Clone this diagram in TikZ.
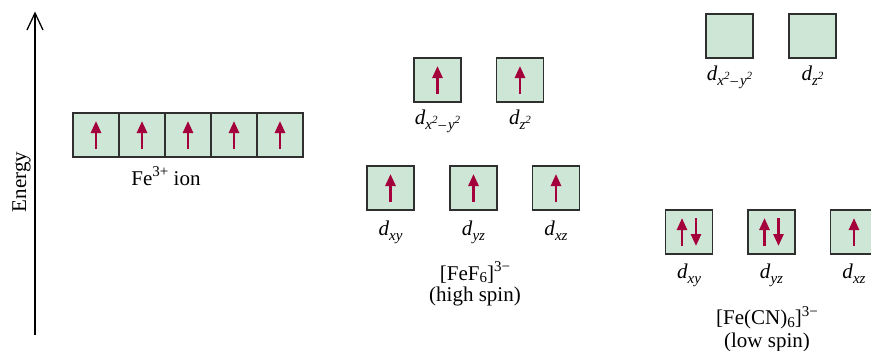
\documentclass[tikz,border=0pt]{standalone}
\usepackage{fontspec}
\setmainfont{Liberation Serif}
\usetikzlibrary{arrows.meta}
\definecolor{orbfill}{HTML}{CDE6D6}
\definecolor{orbline}{HTML}{2F2F2F}
\definecolor{spincol}{HTML}{A3003C}
\newcommand{\subsz}{\fontsize{15}{15}\selectfont}
\newcommand{\supsz}{\fontsize{11}{11}\selectfont}
\newcommand{\dorb}[1]{\textit{d}\raisebox{-0.28em}{\subsz\itshape #1}}
\newcommand{\sqr}{\raisebox{0.45em}{\supsz 2}}
\newcommand{\dxy}{\dorb{x\sqr\kern1pt{\upshape–}\kern2pt y\sqr}}
\newcommand{\dzz}{\dorb{z\sqr}}
\begin{document}
\begin{tikzpicture}[x=1pt,y=-1pt,
  orb/.style={draw=orbline, line width=1.2pt, fill=orbfill, minimum width=47pt, minimum height=44pt, inner sep=0pt},
  spin/.style={draw=spincol, line width=2.6pt, -{Triangle[length=12pt,width=10pt]}},
  lbl/.style={anchor=base, inner sep=0pt, font=\fontsize{21}{25}\selectfont},
  name2/.style={anchor=base, inner sep=0pt, align=center, font=\fontsize{21}{18}\selectfont},
  every node/.append style={font=\fontsize{21}{25}\selectfont}]
\useasboundingbox (0,0) rectangle (871,351);
\clip (0,0) rectangle (871,351);
% axis
\coordinate (axb) at (35,335);
\coordinate (axt) at (35,13);
\draw[line width=1.3pt] (axb) -- (axt);
\draw[line width=1.3pt, line join=miter] ([xshift=-8pt,yshift=-17pt]axt) -- (axt) -- ([xshift=8pt,yshift=-17pt]axt);
\node[lbl, rotate=90] (energy) at (26,182) {Energy};
% Fe3+ ion
\foreach \i/\x in {1/96,2/142,3/188,4/234,5/280}{
  \node[orb, minimum width=46pt] (f\i) at (\x,135) {};
  \draw[spin] ([yshift=-14pt]f\i.center) -- ([yshift=14pt]f\i.center);
}
\node[lbl] (fel) at (166,185) {Fe\raisebox{0.42em}{\subsz 3+} ion};
% high spin
\node[orb] (h1) at (437.5,80) {};
\node[orb] (h2) at (520,80) {};
\node[orb] (h3) at (390.5,188) {};
\node[orb] (h4) at (473.5,188) {};
\node[orb] (h5) at (556,188) {};
\foreach \n in {h1,h2,h3,h4,h5}{
  \draw[spin] ([yshift=-14pt]\n.center) -- ([yshift=14pt]\n.center);
}
\node[lbl] (hl1) at (437.5,124) {\dxy};
\node[lbl] (hl2) at (520,124) {\dzz};
\node[lbl] (hl3) at (390.5,235) {\dorb{xy}};
\node[lbl] (hl4) at (473.5,235) {\dorb{yz}};
\node[lbl] (hl5) at (556,235) {\dorb{xz}};
\node[name2] (hn) at (475,301) {[FeF\raisebox{-0.12em}{\subsz 6}]\raisebox{0.42em}{\subsz 3−}\\[3pt](high spin)};
% low spin
\node[orb] (l1) at (729.5,36) {};
\node[orb] (l2) at (812.5,36) {};
\node[orb] (l3) at (689,232) {};
\node[orb] (l4) at (771.5,232) {};
\node[orb] (l5) at (854,232) {};
\foreach \n in {l3,l4}{
  \draw[spin] ([xshift=-7pt,yshift=-14pt]\n.center) -- ([xshift=-7pt,yshift=14pt]\n.center);
  \draw[spin] ([xshift=7pt,yshift=14pt]\n.center) -- ([xshift=7pt,yshift=-14pt]\n.center);
}
\draw[spin] ([yshift=-14pt]l5.center) -- ([yshift=14pt]l5.center);
\node[lbl] (ll1) at (729.5,80) {\dxy};
\node[lbl] (ll2) at (812.5,80) {\dzz};
\node[lbl] (ll3) at (689,278) {\dorb{xy}};
\node[lbl] (ll4) at (771.5,278) {\dorb{yz}};
\node[lbl] (ll5) at (854,278) {\dorb{xz}};
\node[name2] (ln) at (767,347) {[Fe(CN)\raisebox{-0.12em}{\subsz 6}]\raisebox{0.42em}{\subsz 3−}\\[2pt](low spin)};
\end{tikzpicture}
\end{document}
